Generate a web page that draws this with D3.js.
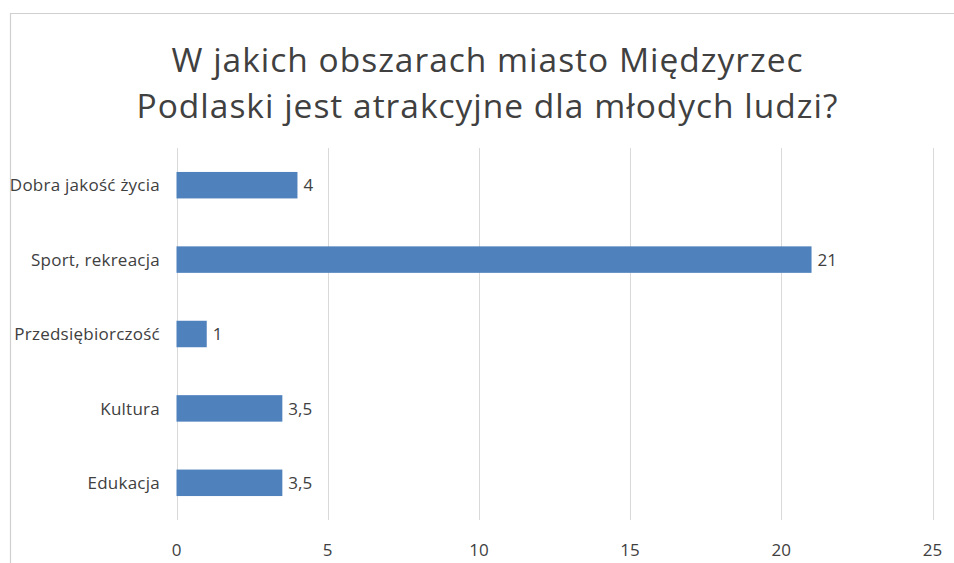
<!DOCTYPE html>
<html>
<head>
<meta charset="utf-8">
<script src="https://cdn.jsdelivr.net/npm/d3@7"></script>
<style>
  body { margin: 0; background: #fff; }
  svg { display: block; font-family: "Open Sans", sans-serif; }
</style>
</head>
<body>
<script>
const categories = ["Dobra jakość życia", "Sport, rekreacja", "Przedsiębiorczość", "Kultura", "Edukacja"];
const values = [4, 21, 1, 3.5, 3.5];
const xTicks = [0, 5, 10, 15, 20, 25];
const titleLines = ["W jakich obszarach miasto Międzyrzec", "Podlaski jest atrakcyjne dla młodych ludzi?"];
const titleWidths = [631, 701];

const width = 954, height = 563;
const textColor = "#404040";

const svg = d3.select("body").append("svg")
    .attr("width", width)
    .attr("height", height);

// chart frame (cropped at right and bottom)
svg.append("path")
    .attr("d", `M10.5,${height} V13.5 H${width}`)
    .attr("fill", "none")
    .attr("stroke", "#d0d0d0")
    .attr("stroke-width", 1.2);

// title
svg.append("g").selectAll("text")
    .data(titleLines)
    .enter()
    .append("text")
    .attr("x", 487)
    .attr("y", (d, i) => 72 + i * 46)
    .attr("text-anchor", "middle")
    .attr("font-size", 33.5)
    .attr("textLength", (d, i) => titleWidths[i])
    .attr("lengthAdjust", "spacing")
    .attr("fill", textColor)
    .text(d => d);

const x = d3.scaleLinear()
    .domain([0, 25])
    .range([176.5, 932.5]);

const y = d3.scaleBand()
    .domain(categories)
    .range([148, 520])
    .paddingInner(0.644)
    .paddingOuter(0.322);

// gridlines
svg.append("g").selectAll("line")
    .data(xTicks)
    .enter()
    .append("line")
    .attr("x1", d => Math.round(x(d)) + 0.5)
    .attr("x2", d => Math.round(x(d)) + 0.5)
    .attr("y1", 148)
    .attr("y2", 520)
    .attr("stroke", "#d9d9d9")
    .attr("stroke-width", 1);

// x axis labels
svg.append("g").selectAll("text")
    .data(xTicks)
    .enter()
    .append("text")
    .attr("x", d => x(d))
    .attr("y", 556)
    .attr("text-anchor", "middle")
    .attr("font-size", 17)
    .attr("fill", textColor)
    .text(d => d);

// bars
svg.append("g").selectAll("rect")
    .data(values)
    .enter()
    .append("rect")
    .attr("x", x(0))
    .attr("y", (d, i) => y(categories[i]))
    .attr("width", d => x(d) - x(0))
    .attr("height", y.bandwidth())
    .attr("fill", "#4f81bd");

// value labels
svg.append("g").selectAll("text")
    .data(values)
    .enter()
    .append("text")
    .attr("x", d => x(d) + 6)
    .attr("y", (d, i) => y(categories[i]) + y.bandwidth() / 2)
    .attr("dy", "0.36em")
    .attr("font-size", 17)
    .attr("fill", textColor)
    .text(d => String(d).replace(".", ","));

// category labels
svg.append("g").selectAll("text")
    .data(categories)
    .enter()
    .append("text")
    .attr("x", 160)
    .attr("y", d => y(d) + y.bandwidth() / 2)
    .attr("dy", "0.36em")
    .attr("text-anchor", "end")
    .attr("font-size", 17)
    .attr("letter-spacing", 0.25)
    .attr("fill", textColor)
    .text(d => d);
</script>
</body>
</html>
